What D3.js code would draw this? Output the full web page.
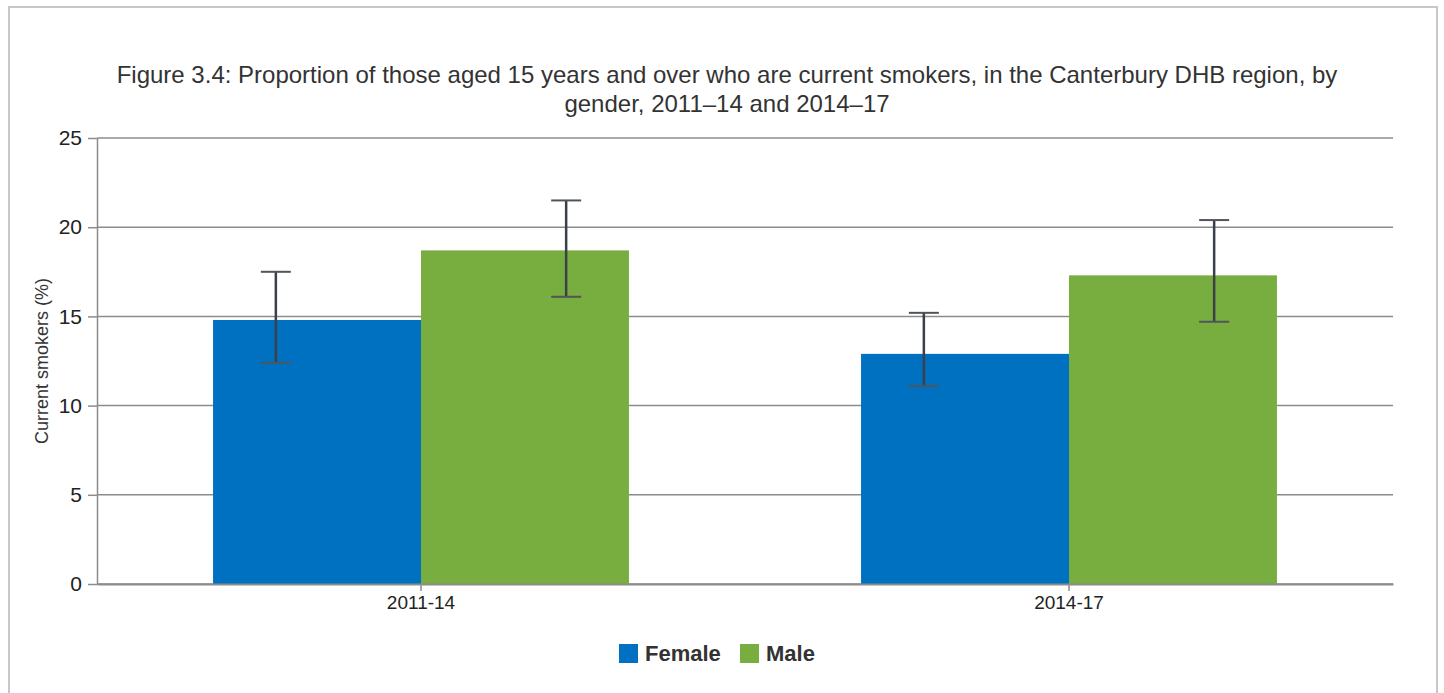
<!DOCTYPE html>
<html>
<head>
<meta charset="utf-8">
<script src="https://cdn.jsdelivr.net/npm/d3@7"></script>
<style>
  html, body { margin: 0; padding: 0; background: #fff; }
  svg { display: block; font-family: "Liberation Sans", Arial, sans-serif; }
</style>
</head>
<body>
<svg id="chart" width="1444" height="693"></svg>
<script>
// Current smokers aged 15+, Canterbury DHB, by gender and survey period
const periods = ["2011-14", "2014-17"];
const genders = ["Female", "Male"];
const femaleValues = [14.8, 12.9];
const maleValues = [18.7, 17.3];
const femaleLow = [12.4, 11.1];
const femaleHigh = [17.5, 15.2];
const maleLow = [16.1, 14.7];
const maleHigh = [21.5, 20.4];
const yTicks = [0, 5, 10, 15, 20, 25];
const titleLines = [
  "Figure 3.4: Proportion of those aged 15 years and over who are current smokers, in the Canterbury DHB region, by",
  "gender, 2011\u201314 and 2014\u201317"
];
const colors = { Female: "#0070C0", Male: "#78AD3F" };

const rows = periods.map((p, i) => ({
  period: p,
  bars: [
    { gender: "Female", value: femaleValues[i], low: femaleLow[i], high: femaleHigh[i] },
    { gender: "Male", value: maleValues[i], low: maleLow[i], high: maleHigh[i] }
  ]
}));

const svg = d3.select("#chart");
const margin = { left: 97, right: 51, top: 138, bottom: 109 };
const W = 1444, H = 693;
const plotW = W - margin.left - margin.right;
const plotH = H - margin.top - margin.bottom;

// outer frame
svg.append("rect")
  .attr("x", 9).attr("y", 7)
  .attr("width", 1428).attr("height", 700)
  .attr("fill", "#fff").attr("stroke", "#c8c8c8").attr("stroke-width", 2);

// title
svg.append("g").selectAll("text").data(titleLines).join("text")
  .attr("x", 727).attr("y", (d, i) => 83 + i * 29)
  .attr("text-anchor", "middle")
  .attr("font-size", 24)
  .attr("fill", "#333")
  .text(d => d);

const g = svg.append("g").attr("transform", `translate(${margin.left},${margin.top})`);

const x0 = d3.scaleBand().domain(periods).range([0, plotW]).paddingInner(0).paddingOuter(0);
const x1 = d3.scaleBand().domain(genders).range([0, x0.bandwidth()]).paddingInner(0).paddingOuter(0.558);
const y = d3.scaleLinear().domain([0, 25]).range([plotH, 0]);

// gridlines + y axis ticks
const yAxis = d3.axisLeft(y).tickValues(yTicks).tickSize(9).tickSizeOuter(0).tickPadding(6).tickFormat(d3.format("d"));
const yg = g.append("g").call(yAxis);
yg.select(".domain").attr("stroke", "#8c8c8c").attr("stroke-width", 1.5);
yg.selectAll(".tick line").attr("stroke", "#8c8c8c").attr("stroke-width", 1.5);
yg.selectAll(".tick text").attr("font-size", 21).attr("fill", "#222")
  .attr("font-family", "Liberation Sans, Arial, sans-serif");

g.append("g").selectAll("line").data(yTicks).join("line")
  .attr("x1", 0).attr("x2", plotW)
  .attr("y1", d => y(d)).attr("y2", d => y(d))
  .attr("stroke", "#8c8c8c").attr("stroke-width", 1.5);

// bars
const groups = g.append("g").selectAll("g").data(rows).join("g")
  .attr("transform", d => `translate(${x0(d.period)},0)`);

groups.selectAll("rect").data(d => d.bars).join("rect")
  .attr("x", d => x1(d.gender))
  .attr("width", x1.bandwidth())
  .attr("y", d => y(d.value))
  .attr("height", d => plotH - y(d.value))
  .attr("fill", d => colors[d.gender]);

// error bars, spread either side of the period centre
const errOffset = { Female: -0.224, Male: 0.224 };
const capHalf = 15;
const eb = groups.selectAll("g.err").data(d => d.bars).join("g").attr("class", "err")
  .attr("transform", d => `translate(${x0.bandwidth() / 2 + errOffset[d.gender] * x0.bandwidth()},0)`);
eb.append("line")
  .attr("y1", d => y(d.low)).attr("y2", d => y(d.high))
  .attr("stroke", "#3b4049").attr("stroke-width", 2.5);
eb.append("line")
  .attr("x1", -capHalf).attr("x2", capHalf)
  .attr("y1", d => y(d.high)).attr("y2", d => y(d.high))
  .attr("stroke", "#50555d").attr("stroke-width", 2);
eb.append("line")
  .attr("x1", -capHalf).attr("x2", capHalf)
  .attr("y1", d => y(d.low)).attr("y2", d => y(d.low))
  .attr("stroke", "#50555d").attr("stroke-width", 2);

// x axis
const xAxis = d3.axisBottom(x0).tickSize(7).tickSizeOuter(0).tickPadding(5);
const xg = g.append("g").attr("transform", `translate(0,${plotH})`).call(xAxis);
xg.select(".domain").attr("stroke", "#8c8c8c").attr("stroke-width", 2);
xg.selectAll(".tick line").attr("stroke", "#8c8c8c").attr("stroke-width", 1.5);
xg.selectAll(".tick text").attr("font-size", 19).attr("fill", "#222")
  .attr("font-family", "Liberation Sans, Arial, sans-serif");

// y axis title
svg.append("text")
  .attr("transform", `translate(48,${margin.top + plotH / 2}) rotate(-90)`)
  .attr("text-anchor", "middle")
  .attr("font-size", 18)
  .attr("fill", "#333")
  .text("Current smokers (%)");

// legend
const legend = svg.append("g").attr("transform", "translate(619,644)");
const items = legend.selectAll("g").data(genders).join("g")
  .attr("transform", (d, i) => `translate(${i * 121},0)`);
items.append("rect").attr("width", 19).attr("height", 19).attr("fill", d => colors[d]);
items.append("text").attr("x", 26).attr("y", 17)
  .attr("font-size", 22).attr("font-weight", "bold").attr("fill", "#333")
  .text(d => d);
</script>
</body>
</html>
